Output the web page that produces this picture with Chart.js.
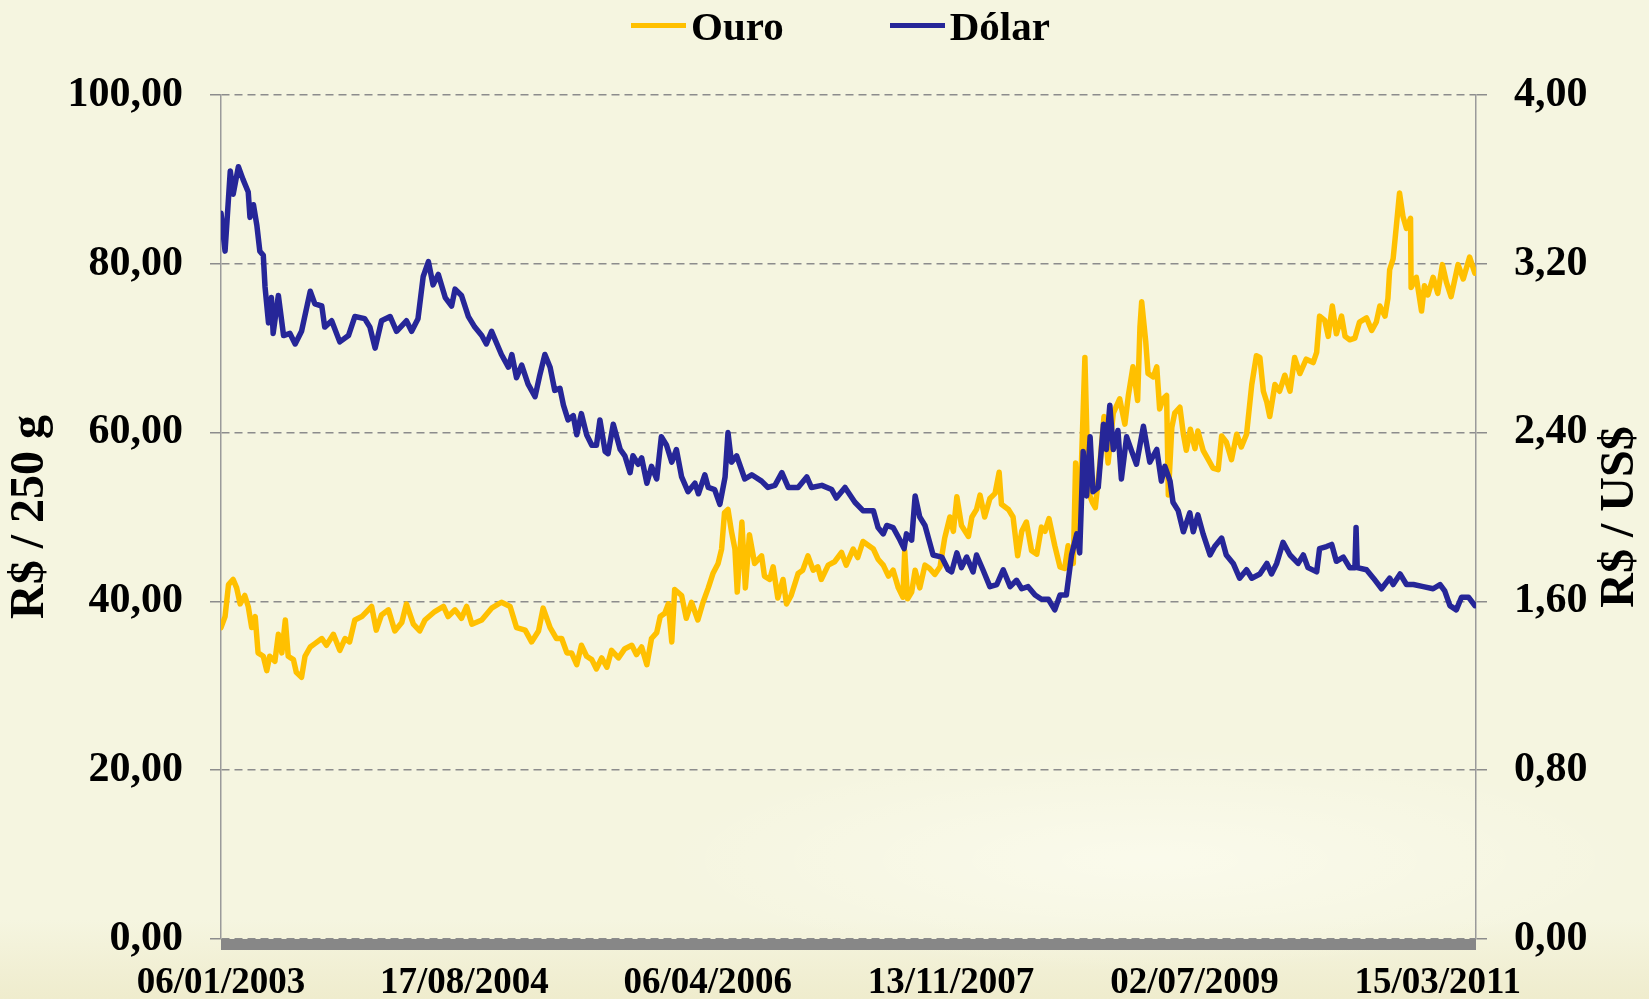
<!DOCTYPE html>
<html lang="pt-BR">
<head>
<meta charset="utf-8">
<title>Ouro x Dólar</title>
<script src="https://cdn.jsdelivr.net/npm/chart.js@4.4.1/dist/chart.umd.min.js"></script>
<style>
  html, body { margin: 0; padding: 0; }
  body {
    width: 1649px; height: 999px; overflow: hidden;
    background:
      radial-gradient(ellipse 700px 160px at 1150px 860px, rgba(255,255,245,0.55), rgba(255,255,245,0) 70%),
      linear-gradient(to bottom, #f5f5e0 0%, #f5f5e0 92%, #efeccd 100%);
    font-family: "Liberation Serif", "Times New Roman", serif;
  }
  #wrap { position: relative; width: 1649px; height: 999px; }
  #legend {
    position: absolute; top: 6px; left: 631px;
    display: flex; gap: 106px;
    font-weight: bold; font-size: 41px; line-height: 41px; color: #000;
  }
  #legend .item { display: flex; align-items: center; }
  #legend .mark { width: 55px; height: 5px; margin-right: 5px; margin-top: -2px; }
</style>
</head>
<body>
<div id="wrap">
  <div id="legend"></div>
  <canvas id="chart" width="1649" height="999"></canvas>
</div>
<script>
// eixo x: índice do pregão, com um rótulo a cada 420 pregões
const tickDays = [0, 420, 840, 1260, 1680, 2100];
const tickLabels = ['06/01/2003', '17/08/2004', '06/04/2006', '13/11/2007', '02/07/2009', '15/03/2011'];
const lastDay = 2166;

// Ouro (R$ / 250 g)
const ouroDays = [0,7,13,21,27,33,41,47,53,59,64,73,79,84,93,99,105,111,116,125,
  130,139,145,154,162,174,182,194,205,214,222,231,243,260,268,277,289,300,312,320,
  332,343,352,369,384,392,404,415,424,433,450,467,484,499,510,525,536,548,556,
  568,579,588,597,605,614,622,631,640,648,657,666,674,686,697,709,717,726,735,743,
  752,758,766,772,778,783,795,803,812,823,832,841,849,858,864,869,875,881,887,891,
  899,905,912,921,933,938,947,953,961,970,976,984,996,1004,1013,1022,1030,1036,1048,1059,
  1071,1079,1091,1099,1108,
  1126,1134,1143,1152,1160,1169,1177,1180,1185,1192,1198,1206,1215,1223,1232,1241,1249,1258,1264,1270,
  1278,1290,1296,1304,1310,1318,1327,1336,1343,1347,1359,1367,1375,1382,1390,1399,1408,1416,1422,1429,
  1439,1448,1456,1462,1471,1475,1481,1491,1497,1504,1509,1517,1524,1531,1540,1551,1560,1566,1574,1582,
  1586,1589,1596,1600,1609,1615,1620,
  1626,1632,1635,1641,1646,1655,1661,1666,1673,1681,1686,1695,1704,1712,1721,1727,1735,1744,1753,1761,
  1770,1779,1787,1793,1799,1805,1810,1819,1827,1836,1845,1853,1862,1873,1885,1891,1896,1905,1911,1918,
  1925,1934,1940,1948,1957,1965,1977,1986,1994,2000,2009,2014,2017,2023,2029,2034,2040,2046,2053,2054,
  2063,2072,2077,2083,2092,2100,2108,2115,2123,2135,2144,2155,2164];
const ouroValues = [36.9,38.2,42.0,42.6,41.6,39.7,40.7,39.4,36.9,38.2,33.9,33.5,31.8,33.5,32.9,36.1,33.9,37.8,33.5,33.1,
  31.6,31.0,33.5,34.6,35.0,35.6,34.8,36.1,34.2,35.6,35.2,37.8,38.2,39.4,36.6,38.4,39.0,36.5,37.5,39.7,
  37.3,36.5,37.8,38.8,39.4,38.2,39.0,38.0,39.4,37.3,37.8,39.2,39.9,39.4,36.9,36.6,35.2,36.5,39.2,
  36.9,35.6,35.6,33.9,33.9,32.5,34.8,33.5,33.1,32.0,33.3,32.2,34.2,33.3,34.4,34.8,33.7,34.6,32.5,35.6,
  36.3,38.2,38.6,39.7,35.2,41.4,40.7,38.0,39.9,37.8,39.9,41.6,43.3,44.5,46.2,50.5,50.9,48.3,46.2,41.1,
  49.4,41.6,47.9,44.5,45.4,43.0,42.6,44.1,40.4,42.6,39.7,40.7,43.3,43.7,45.4,43.7,44.1,42.6,44.3,44.7,
  45.8,44.3,46.2,45.2,47.1,
  46.2,45.0,44.3,43.0,43.7,41.6,40.5,46.0,40.3,41.1,43.7,41.6,44.3,43.9,43.2,44.1,47.5,50.0,48.3,52.4,
  49.0,47.7,50.0,50.9,52.6,50.0,52.2,52.8,55.3,51.5,50.9,50.0,45.4,48.3,49.4,46.0,45.6,48.8,48.3,49.8,
  46.6,44.1,43.9,46.6,44.5,56.4,47.9,68.9,53.0,51.7,51.1,56.4,61.9,56.4,62.3,64.0,61.0,64.4,67.8,63.8,
  72.5,75.5,70.8,67.0,66.6,67.8,62.8,
  64.0,64.4,52.6,60.6,62.3,63.0,59.8,57.9,60.4,58.1,60.2,57.9,56.8,55.8,55.6,59.6,58.9,56.8,59.8,58.3,
  59.8,65.7,69.1,68.9,64.9,63.6,61.9,65.7,64.9,66.8,64.9,68.9,67.0,68.7,68.3,69.5,73.8,73.3,71.4,75.0,
  71.7,73.8,71.4,71.0,71.2,73.1,73.6,72.1,73.1,75.0,73.8,75.9,79.3,80.6,84.8,88.4,85.6,84.2,85.4,77.2,
  78.4,74.4,77.4,76.3,78.4,76.5,79.9,77.8,76.1,79.9,78.2,80.8,78.9];

// Dólar (R$ / US$)
const dolarDays = [0,7,16,21,30,38,47,50,56,62,67,73,76,82,87,90,99,108,119,128,
  139,154,162,174,179,191,205,220,231,248,257,266,277,292,303,320,329,340,349,358,
  366,375,387,398,404,415,427,438,450,458,467,484,496,502,510,519,530,542,550,559,
  568,576,585,591,599,608,614,622,631,640,648,654,663,668,677,689,697,706,711,720,
  726,735,743,752,760,769,778,786,795,806,818,824,835,841,852,861,870,875,881,890,
  904,916,933,944,956,968,979,996,1011,1019,1037,1054,1062,1077,1094,1108,
  1126,1134,1143,1149,1160,1172,1179,1183,1192,1198,1206,1215,1229,1244,1255,1261,1270,1278,1287,1298,
  1304,1315,1327,1339,1350,1362,1373,1382,1393,1405,1416,1428,1439,1448,1459,1468,1477,1482,1488,1494,
  1500,1505,1514,1523,1528,1534,1540,1548,1554,1563,1572,1580,1592,1603,1615,1623,
  1629,1638,1643,1652,1661,1672,1678,1686,1695,1707,1715,1727,1735,1747,1758,1770,1779,1793,1805,1813,
  1822,1833,1845,1859,1868,1876,1891,1896,1908,1917,1925,1937,1948,1957,1959,1961,1977,1989,2003,2017,
  2023,2035,2046,2058,2075,2092,2104,2112,2121,2132,2141,2153,2164];
const dolarValues = [3.44,3.26,3.64,3.53,3.66,3.60,3.54,3.42,3.48,3.38,3.26,3.24,3.09,2.92,3.04,2.87,3.05,2.86,2.87,2.82,
  2.88,3.07,3.01,3.00,2.90,2.93,2.83,2.86,2.95,2.94,2.90,2.80,2.93,2.95,2.88,2.93,2.88,2.94,3.14,3.21,
  3.10,3.15,3.04,3.00,3.08,3.05,2.95,2.90,2.86,2.82,2.88,2.77,2.71,2.77,2.66,2.72,2.63,2.57,2.67,2.77,
  2.71,2.60,2.61,2.53,2.46,2.48,2.39,2.49,2.39,2.34,2.34,2.46,2.31,2.30,2.44,2.32,2.29,2.21,2.29,2.25,
  2.28,2.16,2.24,2.18,2.38,2.34,2.26,2.32,2.19,2.12,2.16,2.11,2.20,2.14,2.13,2.06,2.19,2.40,2.26,2.29,
  2.18,2.20,2.17,2.14,2.15,2.21,2.14,2.14,2.19,2.14,2.15,2.13,2.09,2.14,2.07,2.03,
  2.03,1.95,1.92,1.96,1.95,1.89,1.85,1.92,1.89,2.10,2.00,1.96,1.82,1.81,1.75,1.74,1.83,1.76,1.81,1.74,
  1.82,1.75,1.67,1.68,1.75,1.67,1.70,1.66,1.67,1.63,1.61,1.61,1.56,1.63,1.63,1.82,1.92,1.83,2.31,2.10,
  2.38,2.12,2.14,2.44,2.32,2.53,2.32,2.41,2.18,2.38,2.31,2.25,2.43,2.26,2.32,2.17,
  2.24,2.17,2.07,2.03,1.93,2.02,1.93,2.01,1.92,1.82,1.86,1.90,1.82,1.78,1.71,1.75,1.71,1.73,1.78,1.73,
  1.78,1.88,1.82,1.78,1.82,1.76,1.74,1.85,1.86,1.87,1.79,1.81,1.76,1.76,1.95,1.76,1.75,1.71,1.66,1.71,
  1.68,1.73,1.68,1.68,1.67,1.66,1.68,1.65,1.58,1.56,1.62,1.62,1.58];

const toPoints = (days, values) => days.map((d, i) => ({ x: d, y: values[i] }));
const fmt = v => Number(v).toFixed(2).replace('.', ',');

const FONT = '"Liberation Serif", "Times New Roman", serif';
const GRID = '#8c8c8c';
const AXIS = '#9a9a9a';

Chart.defaults.font.family = FONT;
Chart.defaults.color = '#000';

// barra cinza do "piso" sob o eixo x e título do eixo direito (lido de baixo para cima)
const extras = {
  id: 'extras',
  beforeDatasetsDraw(chart) {
    const { ctx, chartArea: a } = chart;
    ctx.save();
    ctx.fillStyle = '#878787';
    ctx.fillRect(a.left, a.bottom, a.right - a.left, 11);
    ctx.restore();
  },
  afterDraw(chart) {
    const { ctx } = chart;
    const s = chart.scales.y1;
    ctx.save();
    ctx.translate(s.right - 28, (s.top + s.bottom) / 2);
    ctx.rotate(-Math.PI / 2);
    ctx.font = 'bold 48px ' + FONT;
    ctx.fillStyle = '#000';
    ctx.textAlign = 'center';
    ctx.textBaseline = 'middle';
    ctx.fillText('R$ / US$', 0, 0);
    ctx.restore();
  }
};

const lineStyle = {
  borderWidth: 5.5,
  borderJoinStyle: 'round',
  borderCapStyle: 'round',
  pointRadius: 0,
  tension: 0
};

const chart = new Chart(document.getElementById('chart'), {
  type: 'line',
  data: {
    datasets: [
      {
        ...lineStyle,
        label: 'Ouro',
        data: toPoints(ouroDays, ouroValues),
        borderColor: '#ffc000',
        backgroundColor: '#ffc000',
        yAxisID: 'y',
        order: 2
      },
      {
        ...lineStyle,
        label: 'Dólar',
        data: toPoints(dolarDays, dolarValues),
        borderColor: '#262698',
        backgroundColor: '#262698',
        yAxisID: 'y1',
        order: 1
      }
    ]
  },
  options: {
    responsive: false,
    animation: false,
    devicePixelRatio: 1,
    layout: { padding: { top: 95, left: 0, right: 0, bottom: 0 } },
    plugins: {
      legend: { display: false },
      tooltip: { enabled: false }
    },
    scales: {
      x: {
        type: 'linear',
        min: 0,
        max: lastDay,
        afterBuildTicks: scale => { scale.ticks = tickDays.map(v => ({ value: v })); },
        afterFit: scale => { scale.height = 60; },
        ticks: {
          autoSkip: false,
          maxRotation: 0,
          padding: 22,
          font: { size: 37, weight: 'bold' },
          callback: v => tickLabels[tickDays.indexOf(v)]
        },
        grid: { display: false, drawTicks: false },
        border: { display: false }
      },
      y: {
        position: 'left',
        min: 0,
        max: 100,
        afterFit: scale => { scale.width = 221; },
        ticks: {
          stepSize: 20,
          padding: 27,
          font: { size: 42, weight: 'bold' },
          callback: v => fmt(v)
        },
        grid: {
          color: GRID,
          lineWidth: 1.5,
          tickLength: 11,
          tickBorderDash: [],
          tickColor: GRID,
          tickWidth: 1.5
        },
        border: { display: true, color: AXIS, width: 1.5, dash: [8, 5] },
        title: {
          display: true,
          text: 'R$ / 250 g',
          font: { size: 48, weight: 'bold' },
          padding: { top: 2, bottom: 0 }
        }
      },
      y1: {
        position: 'right',
        min: 0,
        max: 4,
        afterFit: scale => { scale.width = 173; },
        ticks: {
          stepSize: 0.8,
          padding: 27,
          font: { size: 42, weight: 'bold' },
          callback: v => fmt(v)
        },
        grid: {
          drawOnChartArea: false,
          color: GRID,
          lineWidth: 1.5,
          tickLength: 11
        },
        border: { display: true, color: AXIS, width: 1.5 }
      }
    }
  },
  plugins: [extras]
});

// legenda em HTML, gerada a partir das séries
const legend = document.getElementById('legend');
chart.data.datasets.forEach(ds => {
  const item = document.createElement('div');
  item.className = 'item';
  const mark = document.createElement('span');
  mark.className = 'mark';
  mark.style.background = ds.borderColor;
  const text = document.createElement('span');
  text.textContent = ds.label;
  item.appendChild(mark);
  item.appendChild(text);
  legend.appendChild(item);
});
</script>
</body>
</html>
